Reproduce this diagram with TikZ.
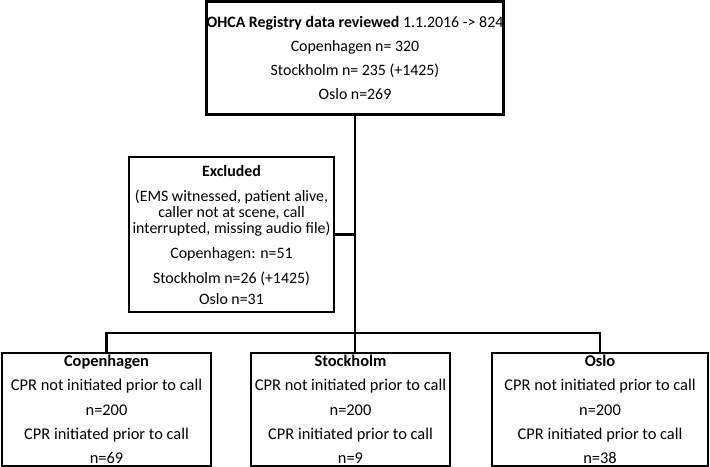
\documentclass[tikz,border=0pt]{standalone}
\usepackage{fontspec}
\setmainfont{Carlito}
\usepackage{tikz}
\usetikzlibrary{positioning}

\tikzset{
  flowbox/.style={draw,line width=1.8pt,inner sep=0pt,align=center},
  flowline/.style={line width=1.8pt}
}

\begin{document}
\begin{tikzpicture}[x=0.75pt,y=0.75pt,yscale=-1,xscale=1]
%set diagram size 710 x 467
\useasboundingbox (0,0) rectangle (710,467);

% Text Node
\node [flowbox,minimum width=222pt,minimum height=84.75pt,font={\fontsize{11.9}{18}\selectfont}] (reg) at (355,58)
  {\textbf{OHCA Registry data reviewed} 1.1.2016 -> 824\\ Copenhagen n= 320\\ Stockholm n= 235 (+1425)\\ Oslo n=269};
% Text Node
\node [flowbox,minimum width=153.75pt,minimum height=116.25pt,font={\fontsize{11.9}{12}\selectfont}] (excl) at (231.5,234.5)
  {\textbf{Excluded}\\[6.75pt] (EMS witnessed, patient alive,\\ caller not at scene, call\\ interrupted, missing audio file)\\[6.75pt] Copenhagen: n=51\\[6.75pt] Stockholm n=26 (+1425)\\[3.75pt] Oslo n=31};
% Text Node
\node [flowbox,minimum width=156.75pt,minimum height=84.75pt,font={\fontsize{12.3}{18.2}\selectfont}] (cph) at (106.5,409.5)
  {\textbf{Copenhagen}\\ CPR not initiated prior to call\\ n=200\\ CPR initiated prior to call\\ n=69};
% Text Node
\node [flowbox,minimum width=149.25pt,minimum height=84.75pt,font={\fontsize{12.3}{18.2}\selectfont}] (sth) at (350.5,409.5)
  {\textbf{Stockholm}\\ CPR not initiated prior to call\\ n=200\\ CPR initiated prior to call\\ n=9};
% Text Node
\node [flowbox,minimum width=162pt,minimum height=84.75pt,font={\fontsize{12.3}{18.2}\selectfont}] (osl) at (600,409.5)
  {\textbf{Oslo}\\ CPR not initiated prior to call\\ n=200\\ CPR initiated prior to call\\ n=38};

\coordinate (split) at (355,333);

%Straight Lines
\draw [flowline] (reg.south) -- (split);
%Straight Lines
\draw [flowline] (excl.east) -- (excl.east -| split);
%Straight Lines
\draw [flowline] (cph.north) |- (split) -| (osl.north);
%Straight Lines
\draw [flowline] (split) -- (sth.north -| split);

\end{tikzpicture}
\end{document}
